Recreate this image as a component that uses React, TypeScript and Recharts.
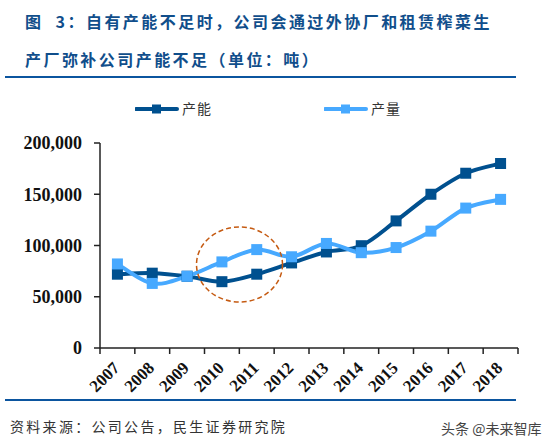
import { LineChart, Line, XAxis, YAxis } from 'recharts';

const years = ['2007', '2008', '2009', '2010', '2011', '2012', '2013', '2014', '2015', '2016', '2017', '2018'];
const capacity = [72000, 73000, 70000, 64700, 72000, 83000, 93700, 99800, 124000, 150000, 170500, 180000];
const output = [82000, 63000, 70000, 84000, 96000, 89000, 102000, 93000, 98000, 114000, 136500, 145000];
const yTicks = [0, 50000, 100000, 150000, 200000];

const titleLines = ['图  3：自有产能不足时，公司会通过外协厂和租赁榨菜生', '产厂弥补公司产能不足（单位：吨）'];
const sourceText = '资料来源：公司公告，民生证券研究院';
const watermark = '头条 @未来智库';

const DARK = '#00508F';
const LIGHT = '#47A9FF';
const RULE = '#0B559F';
const SERIF = '"Liberation Serif", serif';
const CJK = '"Noto Sans CJK SC", sans-serif';

const data = years.map((year, i) => ({ year, capacity: capacity[i], output: output[i] }));

const BAND = 418 / years.length;

// Excel style smoothed line (catmull-rom), monotone was too wiggly
const excelSmooth = (ctx: any) => {
  let pts: [number, number][] = [];
  return {
    areaStart() {},
    areaEnd() {},
    lineStart() {
      pts = [];
    },
    point(x: number, y: number) {
      pts.push([x, y]);
    },
    lineEnd() {
      pts.forEach((p, i) => {
        if (i === 0) {
          ctx.moveTo(p[0], p[1]);
          return;
        }
        const p0 = pts[i - 2] ?? pts[i - 1];
        const p1 = pts[i - 1];
        const p3 = pts[i + 1] ?? p;
        ctx.bezierCurveTo(
          p1[0] + (p[0] - p0[0]) / 6,
          p1[1] + (p[1] - p0[1]) / 6,
          p[0] - (p3[0] - p1[0]) / 6,
          p[1] - (p3[1] - p1[1]) / 6,
          p[0],
          p[1],
        );
      });
    },
  };
};

// ticks sit between the categories, so they are drawn with the label
const YearTick = ({ x, y, payload, index }: any) => (
  <g>
    <line x1={x - BAND / 2} y1={y - 8} x2={x - BAND / 2} y2={y - 2} stroke="#222" strokeWidth={1.5} />
    {index === years.length - 1 && (
      <line x1={x + BAND / 2} y1={y - 8} x2={x + BAND / 2} y2={y - 2} stroke="#222" strokeWidth={1.5} />
    )}
    <text
      x={x + 3}
      y={y + 13}
      textAnchor="end"
      transform={`rotate(-45 ${x + 3} ${y + 13})`}
      fontFamily={SERIF}
      fontWeight={700}
      fontSize={17}
      fill="#111"
    >
      {payload.value}
    </text>
  </g>
);

const SquareDot = (color: string) => ({ cx, cy, index }: any) => (
  <rect key={index} x={cx - 5.5} y={cy - 5.5} width={11} height={11} fill={color} />
);

const LegendItem = ({ left, color, label }: { left: number; color: string; label: string }) => (
  <div style={{ position: 'absolute', left, top: 99, height: 20 }}>
    <svg width={44} height={20} style={{ position: 'absolute', left: 0, top: 0 }}>
      <line x1={1} y1={10} x2={42} y2={10} stroke={color} strokeWidth={4} strokeLinecap="round" />
      <rect x={17} y={5.5} width={9} height={9} fill={color} />
    </svg>
    <span style={{ position: 'absolute', left: 47, top: -1, fontFamily: CJK, fontSize: 14, letterSpacing: 1, color: '#333', whiteSpace: 'nowrap' }}>
      {label}
    </span>
  </div>
);

const rule = (top: number) => (
  <div style={{ position: 'absolute', left: 5, top, width: 511, height: 2, background: RULE }} />
);

export default function App() {
  return (
    <div style={{ position: 'absolute', left: 0, top: 0, width: 554, height: 447, background: '#fff', overflow: 'hidden' }}>
      {titleLines.map((line, i) => (
        <div
          key={line}
          style={{
            position: 'absolute',
            left: 25,
            top: 10 + i * 38,
            fontFamily: CJK,
            fontWeight: 700,
            fontSize: 16,
            letterSpacing: 2.45,
            lineHeight: '22px',
            color: '#104E8B',
            whiteSpace: 'pre',
          }}
        >
          {line}
        </div>
      ))}
      {rule(76)}

      <LineChart
        width={554}
        height={447}
        data={data}
        margin={{ top: 143, right: 36, bottom: 0, left: 0 }}
        style={{ position: 'absolute', left: 0, top: 0 }}
      >
        <XAxis
          dataKey="year"
          interval={0}
          height={99}
          padding={{ left: BAND / 2, right: BAND / 2 }}
          axisLine={{ stroke: '#222', strokeWidth: 1.5 }}
          tickLine={false}
          tick={<YearTick />}
        />
        <YAxis
          width={100}
          domain={[0, 200000]}
          ticks={yTicks}
          tickFormatter={(v: number) => v.toLocaleString('en-US')}
          axisLine={{ stroke: '#222', strokeWidth: 1.5 }}
          tickLine={{ stroke: '#222', strokeWidth: 1.5 }}
          tickSize={6}
          tickMargin={12}
          tick={{ fontFamily: SERIF, fontWeight: 700, fontSize: 18, fill: '#111' }}
        />
        <Line
          dataKey="capacity"
          type={excelSmooth as any}
          stroke={DARK}
          strokeWidth={4}
          dot={SquareDot(DARK)}
          isAnimationActive={false}
        />
        <Line
          dataKey="output"
          type={excelSmooth as any}
          stroke={LIGHT}
          strokeWidth={4}
          dot={SquareDot(LIGHT)}
          isAnimationActive={false}
        />
      </LineChart>

      {/* hand drawn highlight around 2010-2011 */}
      <svg width={554} height={447} style={{ position: 'absolute', left: 0, top: 0, pointerEvents: 'none' }}>
        <ellipse cx={239.5} cy={264.5} rx={43} ry={37.5} fill="none" stroke="#C55A11" strokeWidth={1.5} strokeDasharray="5 3" />
      </svg>

      <LegendItem left={135} color={DARK} label="产能" />
      <LegendItem left={324} color={LIGHT} label="产量" />

      {rule(399)}
      <div style={{ position: 'absolute', left: 10, top: 416, fontFamily: CJK, fontSize: 14, letterSpacing: 2.3, lineHeight: '20px', color: '#333', whiteSpace: 'pre' }}>
        {sourceText}
      </div>
      <div style={{ position: 'absolute', left: 441, top: 418, fontFamily: CJK, fontSize: 14, lineHeight: '20px', color: '#444', whiteSpace: 'pre' }}>
        {watermark}
      </div>
    </div>
  );
}
